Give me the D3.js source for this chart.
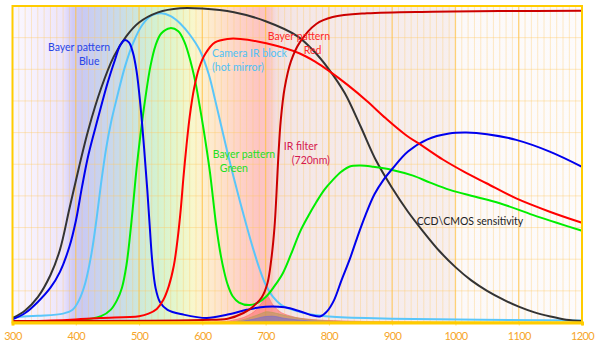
<!DOCTYPE html>
<html>
<head>
<meta charset="utf-8">
<script src="https://cdn.jsdelivr.net/npm/d3@7"></script>
<style>
  html, body { margin: 0; padding: 0; background: #fff; }
  svg { display: block; }
  text { font-family: Lato, "Noto Sans", sans-serif; }
</style>
</head>
<body>
<svg id="chart" width="600" height="347"></svg>
<script>
// Wavelength axis (nm) and ticks
const wavelengthTicks = [300, 400, 500, 600, 700, 800, 900, 1000, 1100, 1200];

// Response curves: [wavelength nm, relative response %]
const ccdSensitivity = [[300,1.4],[320,3.8],[340,8],[360,15],[375,23],[390,36],[405,49],[420,61],[440,74],[460,84],[480,90.5],[500,94.8],[530,98],[565,99.3],[600,99.2],[650,98],[700,95.2],[750,90.5],[775,86],[800,80],[825,72.5],[850,62],[875,51],[900,42.5],[925,35],[950,28.5],[975,22.5],[1000,17.5],[1025,13.3],[1050,10],[1075,7.3],[1100,5],[1125,3.2],[1150,1.9],[1175,0.9],[1200,0.5]];
const bayerBlue = [[300,1],[320,3],[340,6.5],[360,11],[375,16],[390,24],[400,32],[410,43],[420,53],[435,64.5],[450,75.5],[462,83],[470,87.5],[477,89.2],[484,88.5],[490,85.5],[496,79.5],[502,69],[508,55],[513,42],[517,30],[521,19],[526,11],[533,6.5],[545,4],[570,2.5],[607,1.4],[640,2.5],[670,4],[700,5],[730,4.8],[755,3.5],[775,2.2],[787,2],[797,3.5],[808,7],[820,13.4],[833,20],[845,27],[858,34],[872,40.5],[886,45],[900,48.5],[925,54],[955,57.8],[990,59.7],[1017,60],[1050,59.5],[1096,57.7],[1149,54],[1200,49.2]];
const irBlock = [[300,1.7],[340,2.1],[380,2.8],[395,4],[405,7],[415,12.5],[425,22],[433,33],[440,44],[448,55],[456,63.5],[465,71],[478,81],[491,88.5],[505,94],[520,97],[535,97.7],[550,96.8],[565,94.5],[580,91],[596,86],[610,78.5],[620,70.5],[630,62],[640,53.5],[650,45.5],[660,37.8],[670,30.5],[680,23.5],[691,16.6],[700,12],[712,8],[725,5.5],[743,4],[770,2.6],[806,1.8],[900,1.2],[1200,0.6]];
const bayerGreen = [[300,0.3],[400,0.6],[440,2],[455,4],[465,7],[473,11],[480,18],[486,28],[491,38],[496,48.5],[502,59],[510,71],[518,81],[526,87.5],[535,91.3],[549,93],[562,92],[572,88.5],[582,82],[590,75],[596,68.2],[602,61],[607,54.5],[612,47.5],[617,39],[622,30.5],[628,22.5],[634,16.5],[640,12],[648,8.3],[658,6.3],[675,5.5],[688,6.3],[701,8.2],[714,11.5],[727,15.5],[740,21.5],[754,28.5],[767,33.5],[780,38],[793,42],[806,45],[820,47.7],[833,49.3],[850,49.6],[870,49.2],[900,48.2],[933,46.4],[960,44.2],[991,41.9],[1030,39.8],[1070,37.7],[1122,34],[1160,31.5],[1200,29]];
const bayerRed = [[300,0.3],[386,0.8],[438,1.4],[500,2],[515,2.8],[528,4.3],[538,7],[547,11.5],[555,18],[561,26.5],[566,36],[570,45.5],[575,56],[580,65],[587,74],[595,80.5],[605,85],[620,88.5],[640,89.6],[660,89.6],[701,88.2],[754,85],[780,82.2],[800,79.5],[830,75],[860,70],[890,64.5],[920,59.5],[950,55.5],[980,51.5],[1014,47.6],[1049,44],[1096,39.2],[1149,35],[1200,31.5]];
const irFilter720 = [[300,0.5],[600,0.8],[640,1.2],[665,3],[680,5],[694,8],[703,12.5],[709,20],[714,30],[717,40],[720,52],[724,64],[730,74],[740,82.5],[754,88.5],[780,94.3],[806,96.5],[860,97.7],[964,98.2],[1070,98.4],[1200,98.5]];

// Effective channel responses through the 720nm filter
const effRed = [[620,0],[650,0.8],[670,2],[685,4],[695,6.5],[702,8.5],[710,6],[720,3.8],[740,2],[770,1],[820,0.5],[900,0.2],[1000,0]];
const effGreen = [[640,0],[670,1.2],[690,2.6],[702,3.4],[715,3],[735,2],[770,0.9],[830,0.3],[900,0]];
const effBlue = [[650,0],[680,1],[700,1.9],[710,2],[730,1.3],[770,0.5],[850,0]];

// Visible-spectrum backdrop colour stops [nm, colour]
const spectrumStops = [[300,"#fbf8ff"],[340,"#f5effd"],[380,"#ece4fb"],[395,"#d0cbf6"],[405,"#c9c8f5"],[430,"#c9d0f0"],[470,"#c9dbe8"],[500,"#cde8db"],[530,"#d4f2d0"],[560,"#e5f6cc"],[585,"#f8f7cc"],[600,"#fdf0d0"],[630,"#fde2cc"],[660,"#fdd2c8"],[690,"#fdc4c2"],[705,"#fac6c6"],[718,"#f3e0e0"],[750,"#f4e7e7"],[999,"#f7efef"],[1000,"#fcf9f9"],[1200,"#fdfbfb"]];

const series = [
  { data: irBlock, color: "#5ac6fa" },
  { data: ccdSensitivity, color: "#333333" },
  { data: bayerGreen, color: "#00ee00" },
  { data: bayerBlue, color: "#0000ee" },
  { data: bayerRed, color: "#ff0000" },
  { data: irFilter720, color: "#cc0000" }
];

const fills = [
  { data: effRed, color: "#ff6a6a", opacity: 0.55 },
  { data: effGreen, color: "#b89a5a", opacity: 0.6 },
  { data: effBlue, color: "#7a6acc", opacity: 0.6 }
];

const labels = [
  { lines: ["Bayer pattern", "Blue"], at: [[356, 85.8], [405, 81.4]], color: "#2845e6" },
  { lines: ["Camera IR block", "(hot mirror)"], at: [[615.3, 83.9], [615.3, 79.5]], color: "#4fc1f5" },
  { lines: ["Bayer pattern", "Red"], at: [[703.4, 89.3], [760.3, 84.8]], color: "#ff2a2a" },
  { lines: ["Bayer pattern", "Green"], at: [[616.6, 52], [627.6, 47.5]], color: "#22e022" },
  { lines: ["IR filter", "(720nm)"], at: [[728.7, 54.5], [741.3, 50.1]], color: "#d41850" },
  { lines: ["CCD\\CMOS sensitivity"], at: [[938.7, 30.8]], color: "#222222" }
];

const svg = d3.select("#chart");
const plot = { left: 12.5, right: 582, top: 6, bottom: 322.5 };

const x = d3.scaleLinear().domain([300, 1200]).range([plot.left, plot.right]);
const y = d3.scaleLinear().domain([0, 100]).range([plot.bottom, plot.top]);

// Spectrum gradient
const defs = svg.append("defs");
const grad = defs.append("linearGradient")
  .attr("id", "spectrum")
  .attr("gradientUnits", "userSpaceOnUse")
  .attr("x1", x(300)).attr("x2", x(1200)).attr("y1", 0).attr("y2", 0);
grad.selectAll("stop").data(spectrumStops).join("stop")
  .attr("offset", d => (d[0] - 300) / 900)
  .attr("stop-color", d => d[1]);

svg.append("rect")
  .attr("x", x(300)).attr("y", y(100))
  .attr("width", x(1200) - x(300)).attr("height", y(0) - y(100))
  .attr("fill", "url(#spectrum)");

// Grid
const grid = svg.append("g");
grid.selectAll("line.minor").data(d3.range(310, 1200, 10).filter(v => v % 100 !== 0)).join("line")
  .attr("x1", d => x(d)).attr("x2", d => x(d))
  .attr("y1", y(100)).attr("y2", y(0))
  .attr("stroke", "#ffc861").attr("stroke-opacity", 0.35).attr("stroke-width", 1);
grid.selectAll("line.h").data(d3.range(10, 100, 10)).join("line")
  .attr("x1", x(300)).attr("x2", x(1200))
  .attr("y1", d => y(d)).attr("y2", d => y(d))
  .attr("stroke", "#ffc861").attr("stroke-opacity", 0.4).attr("stroke-width", 1);
grid.selectAll("line.major").data(wavelengthTicks.slice(1, -1)).join("line")
  .attr("x1", d => x(d)).attr("x2", d => x(d))
  .attr("y1", y(100)).attr("y2", y(0))
  .attr("stroke", "#ffc040").attr("stroke-opacity", 0.7).attr("stroke-width", 1.3);

// Effective response fills
const area = d3.area().x(d => x(d[0])).y0(y(0)).y1(d => y(d[1])).curve(d3.curveMonotoneX);
svg.append("g").selectAll("path").data(fills).join("path")
  .attr("d", d => area(d.data))
  .attr("fill", d => d.color).attr("fill-opacity", d => d.opacity)
  .attr("stroke", d => d.color).attr("stroke-opacity", 0.8).attr("stroke-width", 0.8);

// Curves
const line = d3.line().x(d => x(d[0])).y(d => y(d[1])).curve(d3.curveCatmullRom.alpha(0.5));
svg.append("g").selectAll("path").data(series).join("path")
  .attr("d", d => line(d.data))
  .attr("fill", "none").attr("stroke", d => d.color)
  .attr("stroke-width", 2).attr("stroke-linejoin", "round");

// Frame
svg.append("rect")
  .attr("x", x(300)).attr("y", y(100))
  .attr("width", x(1200) - x(300)).attr("height", y(0) - y(100))
  .attr("fill", "none").attr("stroke", "#ffcc00").attr("stroke-width", 2);

// Bottom axis
const axis = svg.append("g")
  .attr("transform", `translate(0,${y(0)})`)
  .call(d3.axisBottom(x).tickValues(wavelengthTicks).tickSize(3).tickFormat(d3.format("d")));
axis.select(".domain").attr("stroke", "#ffcc00").attr("stroke-width", 3);
axis.selectAll(".tick line").attr("stroke", "#ffcc00").attr("stroke-opacity", 0.6);
axis.selectAll(".tick text")
  .attr("fill", "#f6a52a").attr("font-size", 11).attr("dy", 0).attr("y", 17.5)
  .attr("letter-spacing", -0.6)
  .style("font-family", "Lato, 'Noto Sans', sans-serif");

// Labels
const lg = svg.append("g").attr("font-size", 10.5);
labels.forEach(l => {
  l.lines.forEach((t, i) => {
    lg.append("text")
      .attr("x", x(l.at[i][0])).attr("y", y(l.at[i][1]))
      .attr("fill", l.color)
      .text(t);
  });
});
</script>
</body>
</html>
